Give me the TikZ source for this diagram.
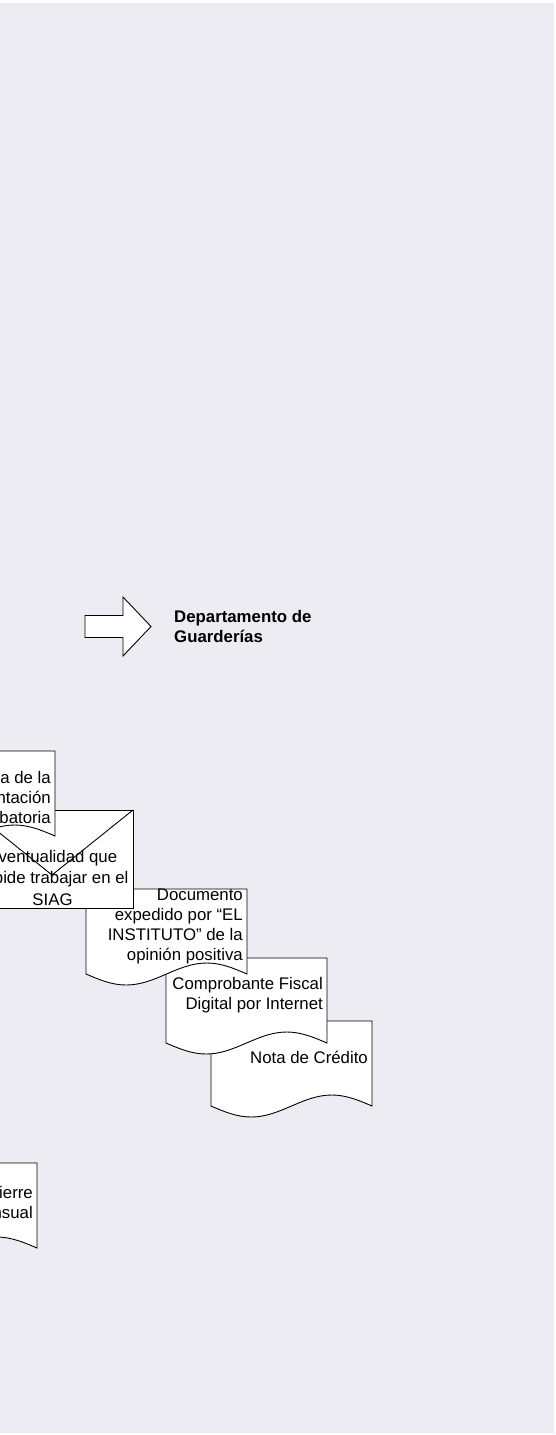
\documentclass[tikz,border=0pt]{standalone}
\usepackage{fontspec}
\setmainfont{Liberation Sans}
\usepackage{tikz}
\usetikzlibrary{positioning,calc}
\definecolor{canvas}{RGB}{237,236,242}

\tikzset{
  sheet/.style={draw=black,fill=white,line width=0.9pt},
  doctext/.style={inner sep=0pt,align=right,anchor=east,font=\fontsize{16.8}{20}\selectfont},
  mailtext/.style={inner sep=0pt,font=\fontsize{16.8}{20}\selectfont}
}
% document sheet: left x, top y (width 161, height 85, wavy bottom)
\newcommand{\docsheet}[2]{%
  \draw[sheet] (#1,#2) -- ++(161,0) -- ++(0,85)
    sin ++(-40.25,-11) cos ++(-40.25,11) sin ++(-40.25,11) cos ++(-40.25,-11) -- cycle;}

\begin{document}
\begin{tikzpicture}[x=1pt,y=-1pt]
\useasboundingbox (0,0) rectangle (556,1435);
\clip (0,0) rectangle (556,1435);
\fill[canvas] (0,3) rectangle (554,1433);

\draw[sheet] (85,615.5) -- (123,615.5) -- (123,597) -- (151,626.5) -- (123,656)
  -- (123,637.5) -- (85,637.5) -- cycle;
\node[inner sep=0pt,anchor=west,align=left,font=\bfseries\fontsize{16.8}{20}\selectfont]
  (depto) at (174,626) {Departamento de\\Guarderías};

\docsheet{-124}{1163}
\node[doctext] (cierre) at (33,1202) {ierre\\nsual};

\docsheet{211}{1021}
\node[doctext] (nota) at (368,1057) {Nota de Crédito};
\docsheet{166}{958}
\node[doctext] (cfdi) at (323,995) {Comprobante Fiscal\\Digital por Internet};
\docsheet{86}{889}
\node[doctext] (opinion) at (243,926) {Documento\\expedido por “EL\\INSTITUTO” de la\\opinión positiva};

\draw[sheet] (-29,810) rectangle (133,908);
\draw[line width=0.9pt] (-29,810) -- (52,875) -- (133,810);
\node[mailtext,anchor=east] (evento1) at (117.4,858) {ventualidad que};
\node[mailtext,anchor=east] (evento2) at (128.6,879) {pide trabajar en el};
\node[mailtext] (evento3) at (52.5,900) {SIAG};

\docsheet{-106}{751}
\node[doctext] (copia) at (51,797) {a de la\\ntación\\batoria};
\end{tikzpicture}
\end{document}
